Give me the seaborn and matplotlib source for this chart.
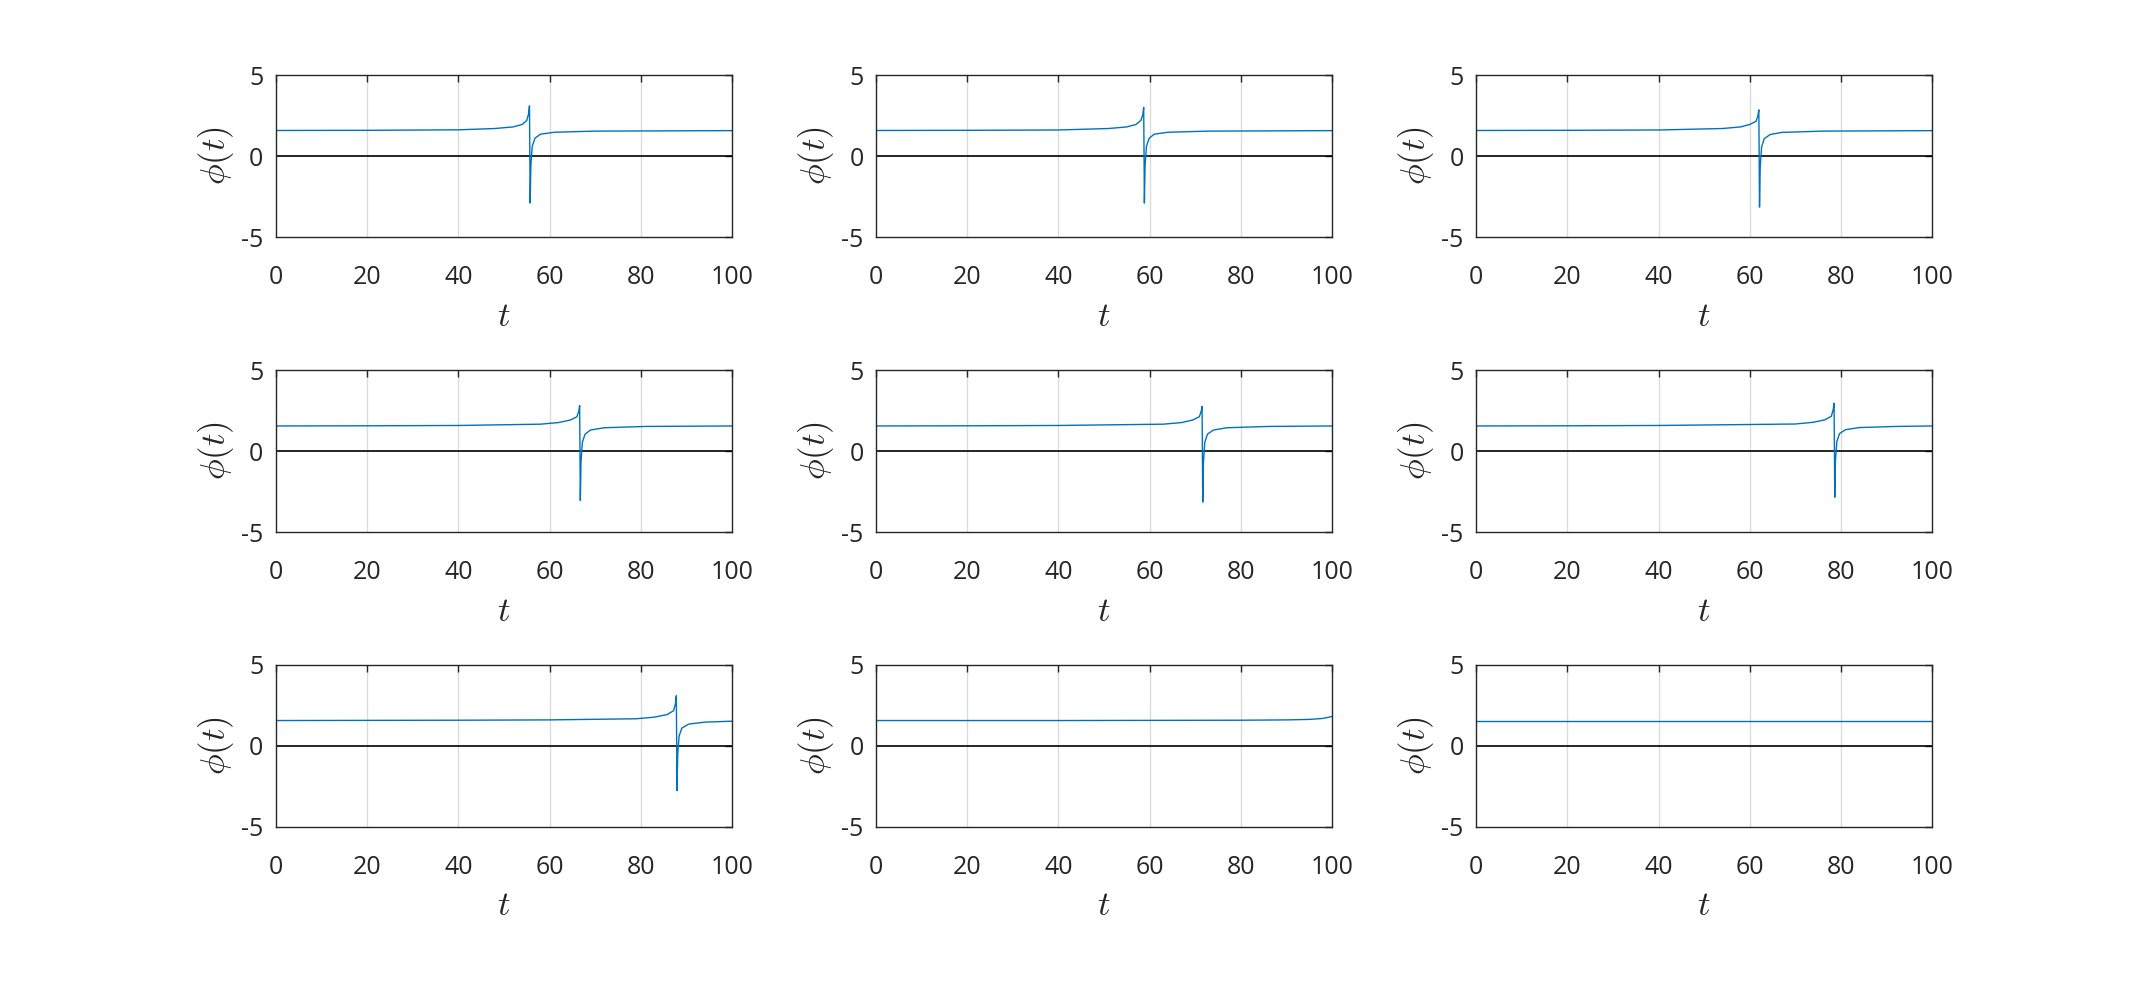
import numpy as np
import seaborn as sns
import matplotlib
matplotlib.use("Agg")
import matplotlib.pyplot as plt

# phi(t) (row by row)
t1 = [0, 20, 40, 48, 52, 54, 55.0, 55.4, 55.6, 55.75, 55.9, 56.2, 56.8, 58, 61, 70, 100]
p1 = [1.58, 1.59, 1.62, 1.70, 1.80, 1.95, 2.20, 2.60, 3.10, -2.90, -0.60, 0.60, 1.10, 1.35, 1.47, 1.54, 1.57]

t2 = [0, 20, 40, 51, 55, 57, 58.1, 58.5, 58.7, 58.85, 59.0, 59.3, 59.9, 61, 64, 73, 100]
p2 = [1.58, 1.59, 1.61, 1.70, 1.80, 1.95, 2.20, 2.55, 3.00, -2.90, -0.60, 0.60, 1.10, 1.35, 1.47, 1.54, 1.57]

t3 = [0, 20, 40, 54, 58, 60, 61.4, 61.8, 62.0, 62.15, 62.3, 62.6, 63.2, 64.5, 67, 76, 100]
p3 = [1.58, 1.59, 1.61, 1.70, 1.80, 1.95, 2.15, 2.50, 2.85, -3.15, -0.70, 0.55, 1.08, 1.33, 1.46, 1.54, 1.57]

t4 = [0, 20, 40, 58, 62, 64.6, 66.0, 66.4, 66.6, 66.75, 66.9, 67.2, 67.8, 69, 72, 81, 100]
p4 = [1.55, 1.56, 1.58, 1.66, 1.76, 1.92, 2.12, 2.45, 2.80, -3.05, -0.65, 0.55, 1.05, 1.30, 1.44, 1.52, 1.55]

t5 = [0, 20, 40, 63, 67, 69.5, 70.9, 71.3, 71.5, 71.65, 71.8, 72.1, 72.7, 74, 77, 86, 100]
p5 = [1.55, 1.56, 1.58, 1.66, 1.76, 1.92, 2.12, 2.45, 2.75, -3.15, -0.70, 0.55, 1.05, 1.30, 1.44, 1.52, 1.55]

t6 = [0, 20, 40, 70, 74, 76.5, 77.9, 78.3, 78.5, 78.65, 78.8, 79.1, 79.7, 81, 84, 92, 100]
p6 = [1.55, 1.56, 1.58, 1.67, 1.78, 1.93, 2.15, 2.55, 2.95, -2.85, -0.60, 0.58, 1.08, 1.32, 1.45, 1.52, 1.55]

t7 = [0, 20, 40, 60, 79, 83, 85.8, 87.2, 87.6, 87.8, 87.95, 88.1, 88.4, 89.0, 90.5, 94, 100]
p7 = [1.57, 1.58, 1.59, 1.61, 1.68, 1.78, 1.94, 2.18, 2.60, 3.10, -2.75, -0.55, 0.60, 1.10, 1.35, 1.47, 1.53]

t8 = [0, 40, 60, 80, 90, 95, 98, 100]
p8 = [1.57, 1.57, 1.58, 1.59, 1.61, 1.64, 1.70, 1.82]

t9 = [0, 50, 100]
p9 = [1.57, 1.57, 1.57]

series = [(t1, p1), (t2, p2), (t3, p3), (t4, p4), (t5, p5), (t6, p6), (t7, p7), (t8, p8), (t9, p9)]
xticks = [0, 20, 40, 60, 80, 100]
yticks = [-5, 0, 5]

sns.set_theme(style="white")
plt.rcParams['font.family'] = ['Open Sans', 'DejaVu Sans']
plt.rcParams['mathtext.fontset'] = 'cm'
plt.rcParams['axes.unicode_minus'] = False

fig = plt.figure(figsize=(21.34, 9.84), dpi=100)
lefts = [0.1293, 0.4105, 0.6917]
bottoms = [0.7591, 0.4593, 0.1596]
w, h = 0.2137, 0.1646

for i, (t, p) in enumerate(series):
    r, c = divmod(i, 3)
    ax = fig.add_axes([lefts[c], bottoms[r], w, h])
    for x in xticks[1:-1]:
        ax.axvline(x, color='#dcdcdc', lw=1.0, zorder=0)
    ax.axhline(0, color='black', lw=1.2, zorder=1)
    sns.lineplot(x=t, y=p, ax=ax, color='#0072BD', linewidth=1.0, zorder=2)
    ax.set_xlim(0, 100)
    ax.set_ylim(-5, 5)
    ax.set_xticks(xticks)
    ax.set_yticks(yticks)
    ax.tick_params(direction='in', length=5, width=1, top=True, right=True,
                   labelsize=18, colors='#262626', pad=9)
    ax.tick_params(axis='x', pad=20)
    for s in ax.spines.values():
        s.set_color('#262626')
        s.set_linewidth(1.0)
    ax.set_xlabel(r'$t$', fontsize=25, labelpad=7)
    ax.set_ylabel(r'$\phi(t)$', fontsize=25, labelpad=4)

fig.savefig('out.png', dpi=100)
